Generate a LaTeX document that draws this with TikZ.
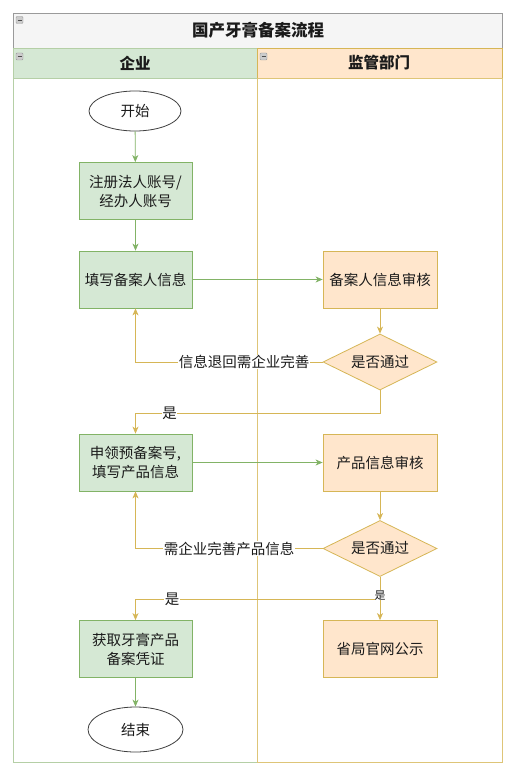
\documentclass[tikz,border=0pt]{standalone}
\usepackage{fontspec}
\setmainfont{Noto Sans CJK SC}
\usetikzlibrary{shapes.geometric,arrows.meta}
\definecolor{gfill}{HTML}{D5E8D4}
\definecolor{gline}{HTML}{82B366}
\definecolor{glane}{HTML}{B5CFA6}
\definecolor{ofill}{HTML}{FFE6CC}
\definecolor{oline}{HTML}{D6B656}
\definecolor{tfill}{HTML}{F5F5F5}
\definecolor{tline}{HTML}{9A9A9A}
\definecolor{txt}{HTML}{1A1A1A}
\tikzset{
  gbox/.style={draw=gline,fill=gfill,line width=0.8pt,minimum width=113pt,minimum height=57pt,align=center,font=\fontsize{14.5}{19}\selectfont,text=txt,inner sep=1pt},
  obox/.style={draw=oline,fill=ofill,line width=0.8pt,minimum width=114pt,minimum height=57pt,align=center,font=\fontsize{14.5}{19}\selectfont,text=txt,inner sep=1pt},
  odia/.style={diamond,draw=oline,fill=ofill,line width=0.8pt,minimum width=114pt,minimum height=56pt,aspect=2.04,inner sep=0pt,font=\fontsize{14.5}{19}\selectfont,text=txt},
  term/.style={ellipse,draw=black!75,fill=white,line width=0.8pt,inner sep=0pt,font=\fontsize{14.5}{19}\selectfont,text=txt},
  garr/.style={draw=gline,line width=0.8pt,-{Stealth[length=7pt,width=6pt,inset=2pt]}},
  oarr/.style={draw=oline,line width=0.8pt,-{Stealth[length=7pt,width=6pt,inset=2pt]}},
  lbl/.style={fill=white,inner sep=0.5pt,font=\fontsize{14.5}{19}\selectfont,text=txt},
  slbl/.style={fill=white,inner sep=0pt,font=\fontsize{11}{13}\selectfont,text=txt},
  icon/.style={draw=tline,fill=black!20,rounded corners=1pt,minimum size=7pt,inner sep=0pt,line width=0.4pt},
}
\begin{document}
\begin{tikzpicture}[x=1pt,y=-1pt]
\useasboundingbox[fill=white] (0,0) rectangle (521,778);
% pool and lanes
\draw[tline,fill=tfill,line width=0.8pt] (13,13) rectangle (502,48);
\draw[glane,fill=gfill,line width=0.8pt] (13,48) rectangle (257,78);
\draw[oline,fill=ofill,line width=0.8pt] (257,48) rectangle (502,78);
\draw[glane,line width=0.8pt] (13,78) rectangle (257,762);
\draw[oline!80,line width=0.8pt] (257,78) rectangle (502,762);
\draw[tline,line width=0.8pt] (13,13) -- (13,48);
\node[font=\bfseries\fontsize{16.5}{20}\selectfont,text=txt] (title) at (258,30.5) {国产牙膏备案流程};
\node[font=\bfseries\fontsize{15.5}{19}\selectfont,text=txt] (laneA) at (135,63) {企业};
\node[font=\bfseries\fontsize{15.5}{19}\selectfont,text=txt] (laneB) at (379,63) {监管部门};
\node[icon] (i1) at (19.5,20) {}; \draw[black!70,line width=0.8pt] ([xshift=-2pt]i1.center) -- ([xshift=2pt]i1.center);
\node[icon] (i2) at (19.5,56.5) {}; \draw[black!70,line width=0.8pt] ([xshift=-2pt]i2.center) -- ([xshift=2pt]i2.center);
\node[icon] (i3) at (263.5,56.5) {}; \draw[black!70,line width=0.8pt] ([xshift=-2pt]i3.center) -- ([xshift=2pt]i3.center);
% nodes
\node[term,minimum width=92pt,minimum height=40pt] (start) at (135,111) {开始};
\node[gbox] (reg) at (135.5,191) {注册法人账号/\\经办人账号};
\node[gbox] (fill) at (135.5,279.5) {填写备案人信息};
\node[obox] (rev1) at (380,279.5) {备案人信息审核};
\node[odia] (d1) at (380,362) {是否通过};
\node[gbox] (apply) at (135.5,462.5) {申领预备案号,\\填写产品信息};
\node[obox] (rev2) at (380,462.5) {产品信息审核};
\node[odia] (d2) at (380,548.5) {是否通过};
\node[gbox] (get) at (135.5,649) {获取牙膏产品\\备案凭证};
\node[obox] (pub) at (380,649) {省局官网公示};
\node[term,minimum width=95pt,minimum height=45pt] (end) at (135.5,729.5) {结束};
% connectors
\draw[garr] (start) -- (reg);
\draw[garr] (reg) -- (fill);
\draw[garr] (fill) -- (rev1);
\draw[oarr] (rev1) -- (d1);
\draw[oarr] (d1.west) -| node[lbl,pos=0.21] {信息退回需企业完善} (fill.south);
\draw[oarr] (d1.south) |- (135.5,413) node[lbl,pos=0.93] {是} -- (apply.north);
\draw[garr] (apply) -- (rev2);
\draw[oarr] (rev2) -- (d2);
\draw[oarr] (d2.west) -| node[lbl,pos=0.25] {需企业完善产品信息} (apply.south);
\draw[oarr] (d2.south) |- (135.5,599) node[lbl,pos=0.925] {是} -- (get.north);
\draw[oarr] (d2.south) -- node[slbl,pos=0.42] {是} (pub.north);
\draw[garr] (get) -- (end);
\end{tikzpicture}
\end{document}
